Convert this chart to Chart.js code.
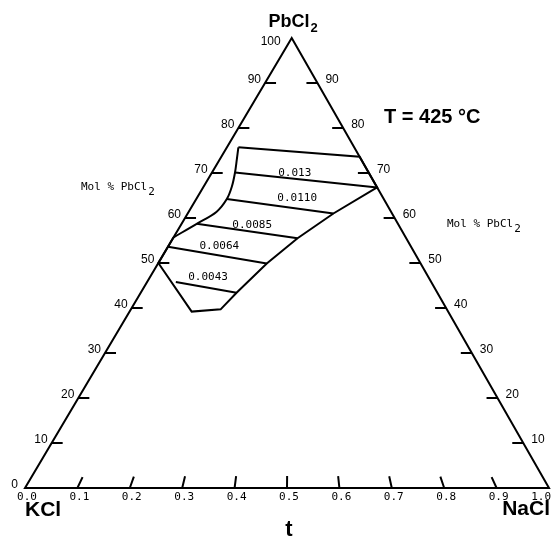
<!DOCTYPE html>
<html>
<head>
<meta charset="utf-8">
<script src="https://cdn.jsdelivr.net/npm/chart.js@4/dist/chart.umd.min.js"></script>
<style>
  html, body { margin: 0; padding: 0; background: #fff; }
  canvas { display: block; }
</style>
</head>
<body>
<canvas id="chart" width="554" height="540"></canvas>
<script>
// side axes: mol % PbCl2, base axis: t = NaCl / (NaCl + KCl)
const pctTicks = [0, 10, 20, 30, 40, 50, 60, 70, 80, 90, 100];
const tTicks = [0.0, 0.1, 0.2, 0.3, 0.4, 0.5, 0.6, 0.7, 0.8, 0.9, 1.0];
const tTickLabels = ['0.0', '0.1', '0.2', '0.3', '0.4', '0.5', '0.6', '0.7', '0.8', '0.9', '1.0'];

// outline of the field (t, mol % PbCl2), straight parts
const outlineT = [0.090, 1.0, 1.0, 0.713, 0.534, 0.414, 0.323, 0.284, 0.195, 0.0, 0.0];
const outlinePct = [75.7, 73.6, 66.8, 61.0, 55.5, 49.9, 43.4, 39.7, 39.2, 50.0, 55.7];

// curved left side of the field
const curveT = [0.0, 0.070, 0.138, 0.163, 0.163, 0.147, 0.122, 0.090];
const curvePct = [55.7, 58.7, 61.4, 64.2, 67.0, 70.1, 72.9, 75.7];

// tie lines
const tieLabels = ['0.013', '0.0110', '0.0085', '0.0064', '0.0043'];
const tieLeftT = [0.147, 0.163, 0.070, 0.0, 0.101];
const tieLeftPct = [70.1, 64.2, 58.7, 53.6, 45.8];
const tieRightT = [1.0, 0.713, 0.534, 0.414, 0.323];
const tieRightPct = [66.8, 61.0, 55.5, 49.9, 43.4];

// where each tie label sits: fraction along the line, lift above it in px
const tieLabelAlong = [0.42, 0.66, 0.55, 0.52, 0.53];
const tieLabelLift = [6, 10, 7, 9, 10];

// the printed triangle leans a little, apex is slightly right of centre
const APEX = 0.509;

function toXY(t, pct) {
    const p = pct / 100;
    return { x: (1 - p) * t + p * APEX, y: p };
}

function lineData(ts, pcts) {
    return ts.map((t, i) => toXY(t, pcts[i]));
}

const datasets = [
    { data: lineData(outlineT, outlinePct) },
    { data: lineData(curveT, curvePct), tension: 0.35 }
];
tieLabels.forEach((lab, i) => {
    datasets.push({
        label: lab,
        data: lineData([tieLeftT[i], tieRightT[i]], [tieLeftPct[i], tieRightPct[i]])
    });
});

function subText(ctx, main, sub, x, y, mainFont, subFont, subDrop, align) {
    ctx.font = mainFont;
    const w1 = ctx.measureText(main).width;
    ctx.font = subFont;
    const w2 = ctx.measureText(sub).width;
    let left = x;
    if (align === 'center') left = x - (w1 + w2) / 2;
    ctx.textAlign = 'left';
    ctx.font = mainFont;
    ctx.fillText(main, left, y);
    ctx.font = subFont;
    ctx.fillText(sub, left + w1 + 1, y + subDrop);
}

const ternaryFrame = {
    id: 'ternaryFrame',
    afterDatasetsDraw(chart) {
        const ctx = chart.ctx;
        const sx = chart.scales.x, sy = chart.scales.y;
        const px = (t, pct) => {
            const q = toXY(t, pct);
            return [sx.getPixelForValue(q.x), sy.getPixelForValue(q.y)];
        };
        ctx.save();
        ctx.strokeStyle = '#000';
        ctx.fillStyle = '#000';
        ctx.lineWidth = 2;

        // triangle
        const a = px(0, 0), b = px(1, 0), c = px(0, 100);
        ctx.beginPath();
        ctx.moveTo(a[0], a[1]);
        ctx.lineTo(b[0], b[1]);
        ctx.lineTo(c[0], c[1]);
        ctx.closePath();
        ctx.stroke();

        // ticks
        ctx.beginPath();
        pctTicks.slice(1, -1).forEach(v => {
            const l = px(0, v), r = px(1, v);
            ctx.moveTo(l[0], l[1]); ctx.lineTo(l[0] + 11, l[1]);
            ctx.moveTo(r[0], r[1]); ctx.lineTo(r[0] - 11, r[1]);
        });
        tTicks.slice(1, -1).forEach(v => {
            const p0 = px(v, 0);
            const dx = c[0] - p0[0], dy = c[1] - p0[1];
            const len = Math.hypot(dx, dy);
            ctx.moveTo(p0[0], p0[1]);
            ctx.lineTo(p0[0] + 12 * dx / len, p0[1] + 12 * dy / len);
        });
        ctx.stroke();

        // side tick labels
        ctx.font = '12px "Liberation Sans", Arial, sans-serif';
        ctx.textBaseline = 'middle';
        pctTicks.forEach(v => {
            const l = px(0, v);
            ctx.textAlign = 'right';
            if (v === 100) {
                ctx.fillText(String(v), l[0] - 11, l[1] + 4);
            } else if (v === 0) {
                ctx.fillText(String(v), l[0] - 7, l[1] - 3);
            } else {
                ctx.fillText(String(v), l[0] - 4, l[1] - 3);
            }
            if (v > 0 && v < 100) {
                const r = px(1, v);
                ctx.textAlign = 'left';
                ctx.fillText(String(v), r[0] + 8, r[1] - 3);
            }
        });

        // base tick labels
        ctx.font = '11px "DejaVu Sans Mono", monospace';
        tTicks.forEach((v, i) => {
            const p0 = px(v, 0);
            if (i === tTicks.length - 1) {
                ctx.textAlign = 'right';
                ctx.fillText(tTickLabels[i], p0[0] + 2, p0[1] + 9);
            } else {
                ctx.textAlign = 'center';
                ctx.fillText(tTickLabels[i], p0[0] + 2, p0[1] + 9);
            }
        });

        // tie line labels
        ctx.textAlign = 'center';
        tieLabels.forEach((lab, i) => {
            const l = px(tieLeftT[i], tieLeftPct[i]);
            const r = px(tieRightT[i], tieRightPct[i]);
            const f = tieLabelAlong[i];
            const lx = l[0] + f * (r[0] - l[0]);
            const ly = l[1] + f * (r[1] - l[1]) - tieLabelLift[i];
            ctx.fillText(lab, lx, ly);
        });

        // component names
        ctx.textBaseline = 'alphabetic';
        ctx.textAlign = 'left';
        ctx.font = 'bold 21px "Liberation Sans", Arial, sans-serif';
        ctx.fillText('KCl', a[0], a[1] + 28);
        ctx.textAlign = 'right';
        ctx.fillText('NaCl', b[0] + 1, b[1] + 27);
        ctx.textAlign = 'center';
        ctx.font = 'bold 22px "Liberation Sans", Arial, sans-serif';
        ctx.fillText('t', (a[0] + b[0]) / 2 + 2, a[1] + 48);
        subText(ctx, 'PbCl', '2', c[0] + 1, c[1] - 11,
            'bold 18px "Liberation Sans", Arial, sans-serif',
            'bold 13px "Liberation Sans", Arial, sans-serif', 5, 'center');

        ctx.textAlign = 'left';
        ctx.font = 'bold 20px "Liberation Sans", Arial, sans-serif';
        ctx.fillText('T = 425 °C', 384, 123);

        // axis captions
        ctx.textBaseline = 'middle';
        subText(ctx, 'Mol % PbCl', '2', 81, 187,
            '11px "DejaVu Sans Mono", monospace',
            '11px "DejaVu Sans Mono", monospace', 5, 'left');
        subText(ctx, 'Mol % PbCl', '2', 447, 224,
            '11px "DejaVu Sans Mono", monospace',
            '11px "DejaVu Sans Mono", monospace', 5, 'left');
        ctx.restore();
    }
};

const ctx = document.getElementById('chart').getContext('2d');
const chart = new Chart(ctx, {
    type: 'scatter',
    data: { datasets: datasets },
    options: {
        responsive: false,
        animation: false,
        showLine: true,
        layout: { padding: { left: 25, right: 5, top: 38, bottom: 52 } },
        scales: {
            x: { type: 'linear', min: 0, max: 1, display: false },
            y: { type: 'linear', min: 0, max: 1, display: false }
        },
        elements: {
            point: { radius: 0, hoverRadius: 0 },
            line: { borderColor: '#000', borderWidth: 2, tension: 0, fill: false }
        },
        plugins: {
            legend: { display: false },
            tooltip: { enabled: false }
        }
    },
    plugins: [ternaryFrame]
});
</script>
</body>
</html>
